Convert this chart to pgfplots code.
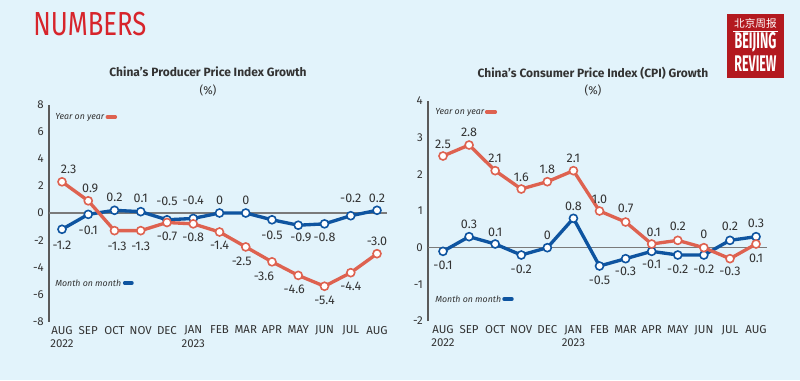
\documentclass[border=0pt]{standalone}
\usepackage{pgfplots}
\pgfplotsset{compat=1.18}
\usepackage{pgfplotstable}
\usepackage{fontspec}
\setmainfont{Fira Sans}
\newfontfamily\cjk{Noto Sans CJK SC}
\definecolor{bg}{HTML}{E2F3FB}
\definecolor{yoy}{HTML}{DE6250}
\definecolor{mom}{HTML}{0E54A0}
\definecolor{txt}{HTML}{333333}
\definecolor{axisgray}{HTML}{5A5A5A}
\definecolor{zerogray}{HTML}{7A7A7A}
\definecolor{brand}{HTML}{D7242B}
\definecolor{logo}{HTML}{B3191F}

% PPI year on year
\pgfplotstableread{
x y lab dx dy
0 2.3 2.3 5 9.4
1 0.9 0.9 1.5 9.4
2 -1.3 -1.3 2 -12
3 -1.3 -1.3 0 -12
4 -0.7 -0.7 0 -10.5
5 -0.8 -0.8 0 -10
6 -1.4 -1.4 0 -10
7 -2.5 -2.5 -3 -10.5
8 -3.6 -3.6 -6 -10.5
9 -4.6 -4.6 -3 -10.5
10 -5.4 -5.4 0 -10.5
11 -4.4 -4.4 0 -10.5
12 -3.0 -3.0 0 9
}\ppiyoy
% PPI month on month
\pgfplotstableread{
x y lab dx dy
0 -1.2 -1.2 0 -12
1 -0.1 -0.1 0 -12
2 0.2 0.2 0 9.75
3 0.1 0.1 0 9.75
4 -0.5 -0.5 0 14
5 -0.4 -0.4 0 13.5
6 0 0 0 9.75
7 0 0 0 9.75
8 -0.5 -0.5 0 -12
9 -0.9 -0.9 2 -9
10 -0.8 -0.8 0 -9.75
11 -0.2 -0.2 0 12.75
12 0.2 0.2 0 9
}\ppimom
% CPI year on year
\pgfplotstableread{
x y lab dx dy
0 2.5 2.5 0 8.5
1 2.8 2.8 0 9.75
2 2.1 2.1 0 9
3 1.6 1.6 0 9
4 1.8 1.8 0 9
5 2.1 2.1 0 9
6 1.0 1.0 0 9
7 0.7 0.7 0 10
8 0.1 0.1 1.5 8.5
9 0.2 0.2 0 10.5
10 0 0 0 9.75
11 -0.3 -0.3 0 -9.75
12 0.1 0.1 0 -10.5
}\cpiyoy
% CPI month on month
\pgfplotstableread{
x y lab dx dy
0 -0.1 -0.1 0 -10.5
1 0.3 0.3 0 9
2 0.1 0.1 0 9
3 -0.2 -0.2 0 -10.5
4 0 0 0 9
5 0.8 0.8 0 9
6 -0.5 -0.5 0 -10.5
7 -0.3 -0.3 0 -9.75
8 -0.1 -0.1 0 -9.75
9 -0.2 -0.2 0 -10.5
10 -0.2 -0.2 0 -10.5
11 0.2 0.2 0 10.5
12 0.3 0.3 0 9.75
}\cpimom

\pgfplotsset{
  chart/.style={
    scale only axis, clip=false,
    axis lines=left, axis line style={-},
    x axis line style={draw=none},
    y axis line style={draw=axisgray, line width=1.3pt},
    tick style={draw=none}, major tick length=0pt,
    xtick={0,...,12},
    xticklabels={{AUG\\2022},SEP,OCT,NOV,DEC,{JAN\\2023},FEB,MAR,APR,MAY,JUN,JUL,AUG},
    xticklabel style={align=center, font=\fontsize{8.6}{10}\selectfont, text=txt, inner sep=0pt, yshift=-3.2pt},
    yticklabel style={font=\fontsize{8.6}{9}\selectfont, text=txt, inner sep=0pt, xshift=-3.75pt},
    /pgf/number format/assume math mode=true,
  },
  ser/.style={line width=2.5pt, color=#1, mark=*, mark size=3pt,
    mark options={fill=white, draw=#1, line width=1.2pt, solid},
    point meta=explicit symbolic, nodes near coords,
    visualization depends on={\thisrow{dx} \as \dx},
    visualization depends on={\thisrow{dy} \as \dy},
    every node near coord/.style={anchor=center, xshift=\dx pt, yshift=\dy pt,
      font=\fontsize{9.4}{10}\selectfont, text=txt, inner sep=0pt},
  },
}

\begin{document}
\begin{tikzpicture}
\useasboundingbox (0,0) rectangle (600pt,-285pt);
\fill[bg] (0,0) rectangle (600pt,-285pt);

% header
\node[anchor=base west, inner sep=0pt, text=brand, font=\fontsize{25}{25}\selectfont] at (24.75pt,-26.25pt) {\scalebox{0.77}[1]{NUMBERS}};
% logo
\fill[logo] (545.25pt,-10.5pt) rectangle (588pt,-58.5pt);
\node[text=white, inner sep=0pt, font=\cjk\fontsize{8}{8}\selectfont] at (566.6pt,-17.25pt) {北京周报};
\draw[white, line width=0.5pt] (549.75pt,-23.6pt) -- (583.5pt,-23.6pt);
\node[text=white, inner sep=0pt, font=\bfseries\fontsize{17}{17}\selectfont] at (566.6pt,-32pt) {\scalebox{0.55}[1]{BEIJING}};
\node[text=white, inner sep=0pt, font=\bfseries\fontsize{17}{17}\selectfont] at (566.6pt,-47.5pt) {\scalebox{0.55}[1]{REVIEW}};

% titles
\node[text=txt, font=\bfseries\fontsize{9}{10}\selectfont] at (156pt,-54pt) {China’s Producer Price Index Growth};
\node[text=txt, font=\fontsize{8.6}{10}\selectfont] at (156pt,-67.5pt) {(\%)};
\node[text=txt, font=\bfseries\fontsize{9}{10}\selectfont] at (444.75pt,-54.75pt) {China’s Consumer Price Index (CPI) Growth};
\node[text=txt, font=\fontsize{8.6}{10}\selectfont] at (444.75pt,-67.5pt) {(\%)};

% PPI chart
\begin{axis}[chart, at={(36.75pt,-241.125pt)}, anchor=south west,
  width=253.5pt, height=162.75pt,
  xmin=-0.495, xmax=12.381, ymin=-8, ymax=8,
  ytick={-8,-6,...,8}]
  \draw[zerogray, line width=1pt] (axis cs:-0.495,0) -- (axis cs:12.381,0);
  \addplot[ser=mom] table[x=x,y=y,meta=lab] {\ppimom};
  \addplot[ser=yoy] table[x=x,y=y,meta=lab] {\ppiyoy};
\end{axis}

% CPI chart
\begin{axis}[chart, at={(321pt,-240.75pt)}, anchor=south west,
  width=254.25pt, height=165pt,
  xmin=-0.575, xmax=12.42, ymin=-2, ymax=4,
  ytick={-2,-1,...,4}]
  \draw[zerogray, line width=1pt] (axis cs:-0.575,0) -- (axis cs:12.42,0);
  \addplot[ser=mom] table[x=x,y=y,meta=lab] {\cpimom};
  \addplot[ser=yoy] table[x=x,y=y,meta=lab] {\cpiyoy};
\end{axis}

% legend labels
\node[anchor=west, inner sep=0pt, text=txt, font=\itshape\fontsize{6.6}{7}\selectfont] at (41.25pt,-87.75pt) {Year on year};
\draw[yoy, line width=2.6pt, line cap=round] (80.5pt,-87.75pt) -- (86.5pt,-87.75pt);
\node[anchor=west, inner sep=0pt, text=txt, font=\itshape\fontsize{6.6}{7}\selectfont] at (41.25pt,-212.25pt) {Month on month};
\draw[mom, line width=2.6pt, line cap=round] (93.5pt,-212.25pt) -- (99pt,-212.25pt);
\node[anchor=west, inner sep=0pt, text=txt, font=\itshape\fontsize{6.6}{7}\selectfont] at (326.25pt,-84pt) {Year on year};
\draw[yoy, line width=2.6pt, line cap=round] (365pt,-84pt) -- (371.5pt,-84pt);
\node[anchor=west, inner sep=0pt, text=txt, font=\itshape\fontsize{6.6}{7}\selectfont] at (326.25pt,-224.25pt) {Month on month};
\draw[mom, line width=2.6pt, line cap=round] (378pt,-224.25pt) -- (384pt,-224.25pt);
\end{tikzpicture}
\end{document}
